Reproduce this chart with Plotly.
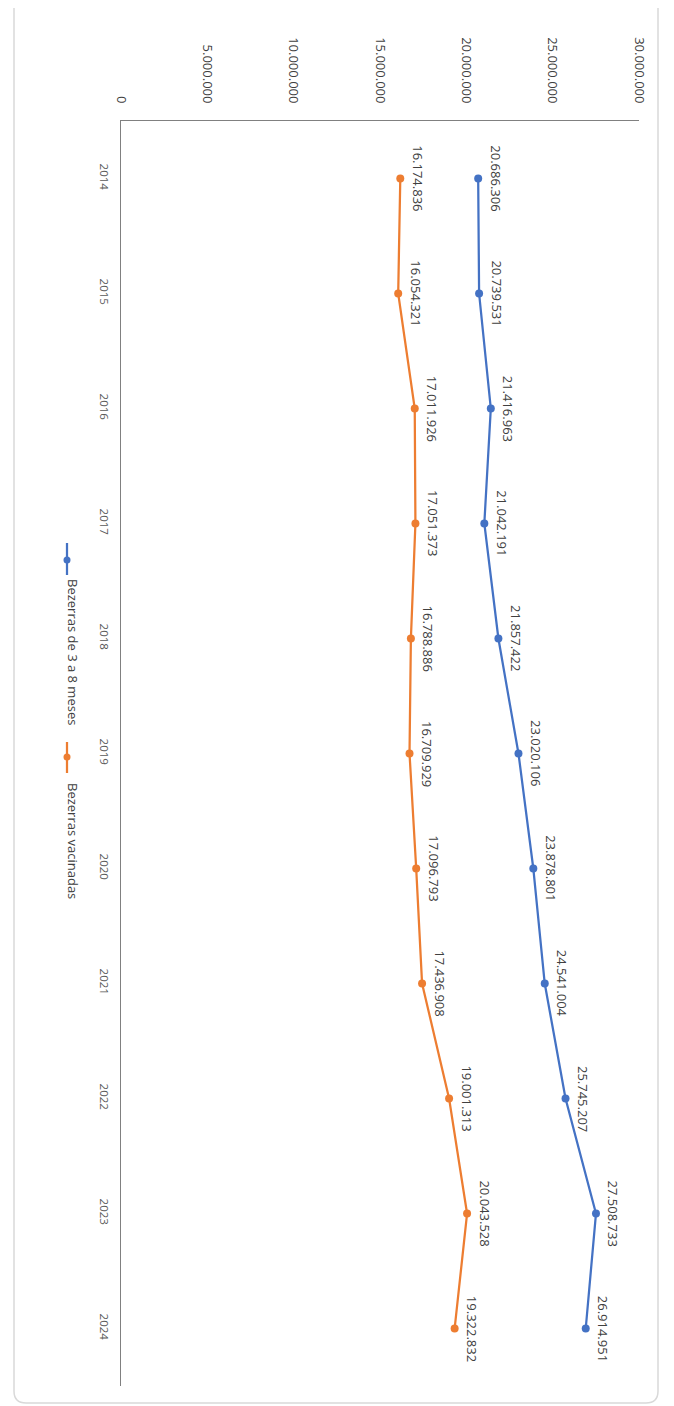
import plotly.graph_objects as go

# Data
years = ["2014", "2015", "2016", "2017", "2018", "2019", "2020", "2021", "2022", "2023", "2024"]
bezerras_3a8 = [20686306, 20739531, 21416963, 21042191, 21857422, 23020106,
                23878801, 24541004, 25745207, 27508733, 26914951]
bezerras_vac = [16174836, 16054321, 17011926, 17051373, 16788886, 16709929,
                17096793, 17436908, 19001313, 20043528, 19322832]
value_ticks = [0, 5000000, 10000000, 15000000, 20000000, 25000000, 30000000]

series = [
    ("Bezerras de 3 a 8 meses", bezerras_3a8, "#4472C4"),
    ("Bezerras vacinadas", bezerras_vac, "#ED7D31"),
]

# the page body adds an 8px margin, so the figure is a bit smaller than the window
OFF = 8
W, H = 674 - OFF, 1406 - OFF
ML, MT = 121 - OFF, 121 - OFF
MR, MB = W - (639 - OFF), H - (1386 - OFF)
PW, PH = W - ML - MR, H - MT - MB


def px(x):
    # page pixel -> paper coordinate
    return (x - OFF - ML) / PW


def py(y):
    return 1 - (y - OFF - MT) / PH


def fmt(v):
    return f"{v:,}".replace(",", ".")


fig = go.Figure()
annotations = []
for name, vals, color in series:
    fig.add_trace(go.Scatter(
        x=vals, y=years, mode="lines+markers", name=name,
        line=dict(color=color, width=2.25),
        marker=dict(color=color, size=8),
        showlegend=False,
    ))
    for i, v in enumerate(vals):
        annotations.append(dict(
            x=v, y=i, xref="x", yref="y", text=fmt(v), showarrow=False,
            textangle=90, xshift=18,
            font=dict(family="Open Sans", size=13, color="#404040"),
        ))

# legend drawn by hand so it can be rotated like the rest of the chart
shapes = []
legend_pos = [(543, 575, 560, 652), (742, 773, 757, 841)]
for (name, vals, color), (y0, y1, ym, yt) in zip(series, legend_pos):
    shapes.append(dict(type="line", xref="paper", yref="paper",
                       x0=px(67), x1=px(67), y0=py(y0), y1=py(y1),
                       line=dict(color=color, width=2.25)))
    shapes.append(dict(type="circle", xref="paper", yref="paper",
                       x0=px(63.5), x1=px(70.5), y0=py(ym - 3.5), y1=py(ym + 3.5),
                       fillcolor=color, line=dict(color=color, width=0)))
    annotations.append(dict(
        x=px(62), y=py(yt), xref="paper", yref="paper", text=name,
        showarrow=False, textangle=90,
        font=dict(family="Open Sans", size=13, color="#404040"),
    ))

# rounded frame around the whole chart (top edge sits above the page)
fx0, fx1, fy0, fy1, r = px(14), px(658), py(-10), py(1403), 12
rx, ry = r / PW, r / PH
frame = (f"M {fx0 + rx},{fy0} L {fx1 - rx},{fy0} Q {fx1},{fy0} {fx1},{fy0 - ry} "
         f"L {fx1},{fy1 + ry} Q {fx1},{fy1} {fx1 - rx},{fy1} "
         f"L {fx0 + rx},{fy1} Q {fx0},{fy1} {fx0},{fy1 + ry} "
         f"L {fx0},{fy0 - ry} Q {fx0},{fy0} {fx0 + rx},{fy0} Z")
shapes.append(dict(type="path", xref="paper", yref="paper", path=frame,
                   line=dict(color="#D9D9D9", width=1.5), layer="below"))

fig.update_layout(
    width=W, height=H,
    margin=dict(l=ML, r=MR, t=MT, b=MB),
    plot_bgcolor="white", paper_bgcolor="white",
    annotations=annotations, shapes=shapes,
    font=dict(family="Open Sans", color="#595959"),
    xaxis=dict(
        range=[0, 30000000], side="top", tickvals=value_ticks,
        ticktext=[fmt(v) for v in value_ticks], tickangle=90,
        showgrid=False, zeroline=False, showline=True,
        linecolor="#808080", linewidth=1, ticks="",
        tickfont=dict(size=13, color="#404040"), ticklabelstandoff=12,
    ),
    yaxis=dict(
        type="category", range=[10.5, -0.5], tickangle=90,
        showgrid=False, zeroline=False, showline=True,
        linecolor="#808080", linewidth=1, ticks="",
        tickfont=dict(size=11.5, color="#595959"), ticklabelstandoff=6,
    ),
)

fig.write_html("out.html")
